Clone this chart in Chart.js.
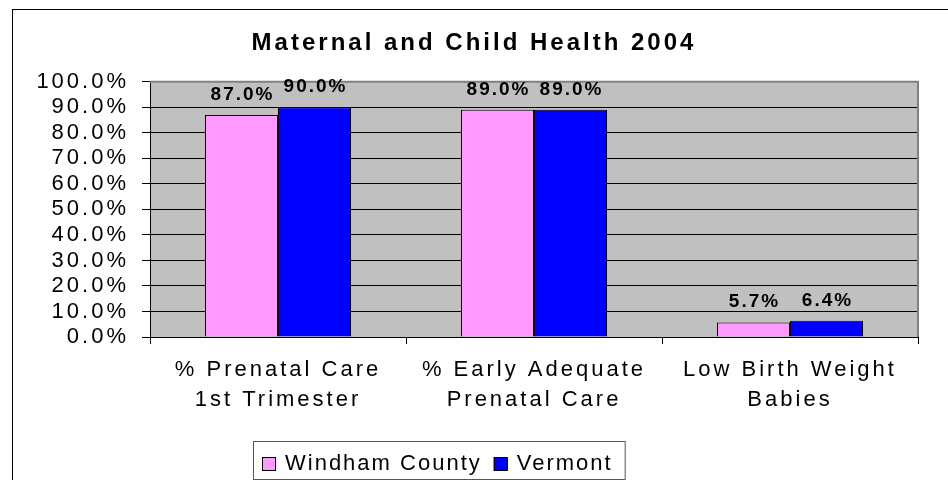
<!DOCTYPE html>
<html>
<head>
<meta charset="utf-8">
<title>Maternal and Child Health 2004</title>
<script src="https://cdn.jsdelivr.net/npm/chart.js@4.4.1/dist/chart.umd.min.js"></script>
<style>
  html, body { margin: 0; padding: 0; background: #fff; }
  #wrap { width: 948px; height: 480px; position: relative; }
</style>
</head>
<body>
<div id="wrap"><canvas id="chart"></canvas></div>
<script>
const CATEGORIES = [
  ["% Prenatal Care", "1st Trimester"],
  ["% Early Adequate", "Prenatal Care"],
  ["Low Birth Weight", "Babies"],
];
const SERIES_NAMES = ["Windham County", "Vermont"];
const WINDHAM = [87.0, 89.0, 5.7];
const VERMONT = [90.0, 89.0, 6.4];
const Y_TICKS = [0, 10, 20, 30, 40, 50, 60, 70, 80, 90, 100];

const FONT = "'Liberation Sans', Arial, sans-serif";
const PINK = "#FF99FF";
const BLUE = "#0000FF";
const PLOT_BG = "#C0C0C0";

// legend frame position (Excel put it left of centre)
const LEGEND_LEFT = 253;
const LEGEND_TOP = 441;

// canvas text in the original is spread out, so add letter spacing
const spacing = {
  id: "spacing",
  beforeLayout(chart) {
    chart.ctx.letterSpacing = "3px";
  },
  beforeDraw(chart) {
    const { ctx, chartArea: a } = chart;
    ctx.letterSpacing = "3px";
    ctx.save();
    ctx.fillStyle = "#fff";
    ctx.fillRect(0, 0, chart.width, chart.height);
    // outer chart frame, runs off the right and bottom edges
    ctx.strokeStyle = "#000";
    ctx.lineWidth = 1;
    ctx.strokeRect(12.5, 9.5, chart.width + 20, chart.height + 20);
    ctx.fillStyle = PLOT_BG;
    ctx.fillRect(a.left, a.top, a.right - a.left, a.bottom - a.top);
    ctx.restore();
  },
};

const plotBorder = {
  id: "plotBorder",
  afterDatasetsDraw(chart) {
    const { ctx, chartArea: a } = chart;
    ctx.save();
    ctx.strokeStyle = "#808080";
    ctx.lineWidth = 2;
    ctx.beginPath();
    ctx.moveTo(a.left, a.top);
    ctx.lineTo(a.right, a.top);
    ctx.lineTo(a.right, a.bottom);
    ctx.stroke();
    ctx.restore();
  },
};

const valueLabels = {
  id: "valueLabels",
  afterDatasetsDraw(chart) {
    const ctx = chart.ctx;
    ctx.save();
    ctx.font = "bold 19px " + FONT;
    ctx.letterSpacing = "2px";
    ctx.fillStyle = "#000";
    ctx.textAlign = "center";
    ctx.textBaseline = "alphabetic";
    chart.data.datasets.forEach((ds, i) => {
      chart.getDatasetMeta(i).data.forEach((bar, j) => {
        ctx.fillText(ds.data[j].toFixed(1) + "%", bar.x + 1, bar.y - 15);
      });
    });
    ctx.restore();
  },
};

const boxLegend = {
  id: "boxLegend",
  afterDraw(chart) {
    const ctx = chart.ctx;
    ctx.save();
    ctx.font = "22px " + FONT;
    ctx.letterSpacing = "2px";
    ctx.textBaseline = "middle";
    ctx.textAlign = "left";
    const cy = LEGEND_TOP + 23;
    let x = LEGEND_LEFT + 9;
    chart.data.datasets.forEach((ds) => {
      ctx.fillStyle = ds.backgroundColor;
      ctx.fillRect(x, cy - 7, 14, 14);
      ctx.strokeStyle = "#000";
      ctx.lineWidth = 1;
      ctx.strokeRect(x + 0.5, cy - 6.5, 13, 13);
      x += 23;
      ctx.fillStyle = "#000";
      ctx.fillText(ds.label, x, cy);
      x += ctx.measureText(ds.label).width + 12;
    });
    ctx.strokeStyle = "#555";
    ctx.lineWidth = 1;
    ctx.strokeRect(LEGEND_LEFT + 0.5, LEGEND_TOP + 0.5, x - LEGEND_LEFT, 38);
    ctx.restore();
  },
};

new Chart(document.getElementById("chart"), {
  type: "bar",
  data: {
    labels: CATEGORIES,
    datasets: [
      {
        label: SERIES_NAMES[0],
        data: WINDHAM,
        backgroundColor: PINK,
        borderColor: "#000",
        borderWidth: 1,
      },
      {
        label: SERIES_NAMES[1],
        data: VERMONT,
        backgroundColor: BLUE,
        borderColor: "#000",
        borderWidth: 1,
      },
    ],
  },
  options: {
    responsive: true,
    maintainAspectRatio: false,
    animation: false,
    devicePixelRatio: 1,
    layout: { padding: { left: 30, right: 30, top: 0, bottom: 0 } },
    datasets: {
      bar: { categoryPercentage: 146 / 256, barPercentage: 1 },
    },
    plugins: {
      legend: { display: false },
      tooltip: { enabled: false },
      title: {
        display: true,
        text: "Maternal and Child Health 2004",
        color: "#000",
        font: { family: FONT, size: 24, weight: "bold", lineHeight: 1.2 },
        padding: { top: 29, bottom: 24 },
      },
    },
    scales: {
      x: {
        afterFit: (scale) => {
          scale.height = 143;
        },
        grid: {
          display: true,
          drawOnChartArea: false,
          drawTicks: true,
          tickLength: 7,
          color: "#000",
        },
        border: { color: "#000", width: 1 },
        ticks: {
          color: "#000",
          autoSkip: false,
          maxRotation: 0,
          padding: 11,
          font: { family: FONT, size: 22, lineHeight: 30 / 22 },
        },
      },
      y: {
        min: 0,
        max: 100,
        afterFit: (scale) => {
          scale.width = 120;
        },
        afterBuildTicks: (scale) => {
          scale.ticks = Y_TICKS.map((v) => ({ value: v }));
        },
        grid: {
          color: "#000",
          tickLength: 8,
          drawTicks: true,
        },
        border: { color: "#000", width: 1 },
        ticks: {
          color: "#000",
          autoSkip: false,
          padding: 13,
          font: { family: FONT, size: 22, lineHeight: 1 },
          callback: (v) => Number(v).toFixed(1) + "%",
        },
      },
    },
  },
  plugins: [spacing, plotBorder, valueLabels, boxLegend],
});
</script>
</body>
</html>
